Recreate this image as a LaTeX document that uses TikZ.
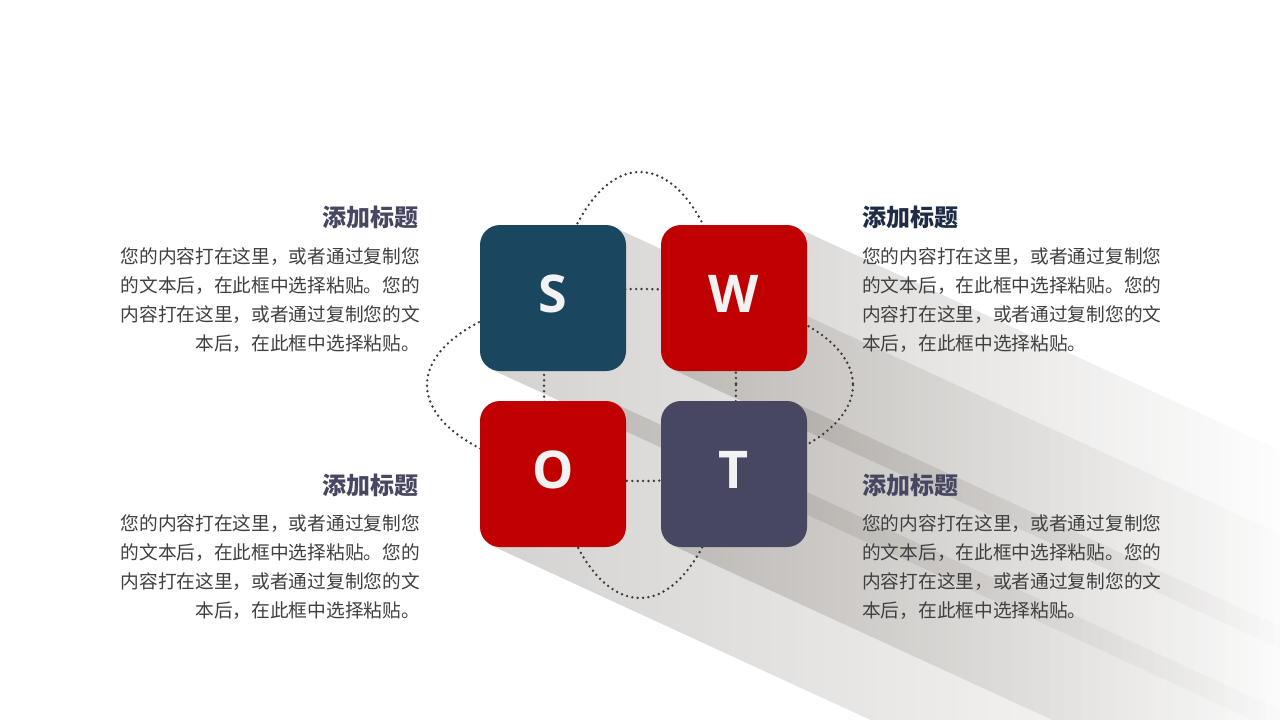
\documentclass[tikz,border=0pt]{standalone}
\usepackage{fontspec}
\usepackage{xcolor}
\usetikzlibrary{calc,fadings,backgrounds}
\newfontfamily\cjk{Noto Sans CJK SC}
\newfontfamily\letterfont{Open Sans}
\definecolor{sblue}{RGB}{26,70,96}
\definecolor{wred}{RGB}{192,0,0}
\definecolor{tgray}{RGB}{71,71,98}
\definecolor{navy}{RGB}{30,44,70}
\definecolor{dotgray}{RGB}{60,60,60}
\definecolor{bodygray}{RGB}{64,64,64}
\definecolor{shadowgray}{RGB}{120,112,104}
\tikzfading[name=longfade,left color=transparent!0,right color=transparent!100]
\tikzstyle{swot} = [rounded corners=20pt,minimum width=146pt,minimum height=146pt,inner sep=0pt,text height=37pt,text depth=8pt,text=white!95!black,font=\letterfont\bfseries\fontsize{52}{52}\selectfont]
\tikzstyle{dots} = [draw=dotgray,line width=2.7pt,line cap=round,dash pattern=on 0pt off 5.4pt]
\tikzstyle{title} = [inner sep=0pt,font=\cjk\bfseries\fontsize{24}{24}\selectfont]
\tikzstyle{body} = [inner sep=0pt,text=bodygray,font=\cjk\fontsize{18.7}{29}\selectfont]
\tikzstyle{longshadow} = [fill=shadowgray,fill opacity=0.31,path fading=longfade]

\begin{document}
\begin{tikzpicture}[x=1pt,y=-1pt]
  \useasboundingbox (0,0) rectangle (1280,720);
  \node (s) [swot,fill=sblue] at (553,298) {S};
  \node (w) [swot,fill=wred] at (734,298) {W};
  \node (o) [swot,fill=wred] at (553,474) {O};
  \node (t) [swot,fill=tgray] at (734,474) {T};
  \begin{scope}[on background layer]
    \fill [white] (0,0) rectangle (1280,720);
    \fill [longshadow] (s.center) -- ($(s.north east)+(-12,2)$) -- ++(686,316) -- ($(s.south west)+(820,370)$) -- ($(s.south west)+(12,-2)$) -- cycle;
    \fill [longshadow] (w.center) -- ($(w.north east)+(-12,2)$) -- ++(505,232) -- ($(w.south west)+(639,286)$) -- ($(w.south west)+(12,-2)$) -- cycle;
    \fill [longshadow] (o.center) -- ($(o.north east)+(-12,2)$) -- ++(686,316) -- ($(o.south west)+(820,370)$) -- ($(o.south west)+(12,-2)$) -- cycle;
    \fill [longshadow] (t.center) -- ($(t.north east)+(-12,2)$) -- ++(505,232) -- ($(t.south west)+(639,286)$) -- ($(t.south west)+(12,-2)$) -- cycle;
    \draw [dots] (640,385) ellipse [x radius=96,y radius=213];
    \draw [dots] (640,385) ellipse [x radius=213,y radius=96];
  \end{scope}
  \node (st) [title,text=tgray,anchor=base east] at (419,226) {添加标题};
  \node (sb) [body,anchor=north east,align=right] at (420,247) {您的内容打在这里，或者通过复制您\\的文本后，在此框中选择粘贴。您的\\内容打在这里，或者通过复制您的文\\本后，在此框中选择粘贴。};
  \node (wt) [title,text=navy,anchor=base west] at (862,226) {添加标题};
  \node (wb) [body,anchor=north west,align=left] at (862,247) {您的内容打在这里，或者通过复制您\\的文本后，在此框中选择粘贴。您的\\内容打在这里，或者通过复制您的文\\本后，在此框中选择粘贴。};
  \node (ot) [title,text=tgray,anchor=base east] at (419,494) {添加标题};
  \node (ob) [body,anchor=north east,align=right] at (420,514) {您的内容打在这里，或者通过复制您\\的文本后，在此框中选择粘贴。您的\\内容打在这里，或者通过复制您的文\\本后，在此框中选择粘贴。};
  \node (tt) [title,text=tgray,anchor=base west] at (862,494) {添加标题};
  \node (tb) [body,anchor=north west,align=left] at (862,514) {您的内容打在这里，或者通过复制您\\的文本后，在此框中选择粘贴。您的\\内容打在这里，或者通过复制您的文\\本后，在此框中选择粘贴。};
\end{tikzpicture}
\end{document}
